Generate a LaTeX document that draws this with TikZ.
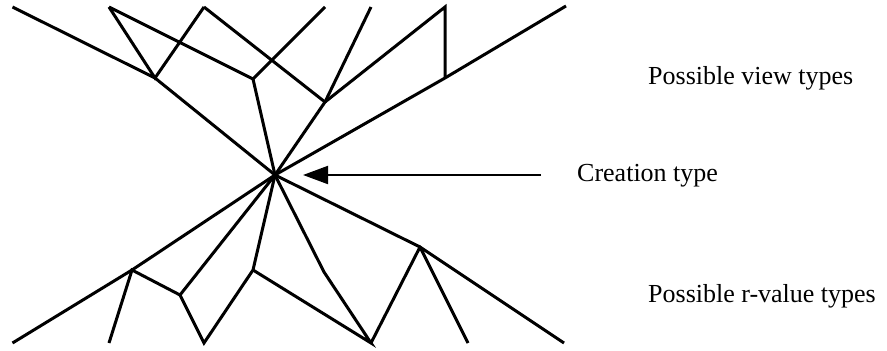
\documentclass[tikz,border=0pt]{standalone}
\usepackage{fontspec}
\setmainfont{Liberation Serif}
\usetikzlibrary{arrows.meta}
\begin{document}
\begin{tikzpicture}[x=1pt,y=-1pt,
  edge/.style={line width=3pt,line join=miter},
  lbl/.style={font=\fontsize{26}{30}\selectfont,inner sep=0pt,anchor=base west},
  pointer/.style={line width=2pt,-{Triangle[length=25pt,width=18pt]}}]
\useasboundingbox (0,0) rectangle (887,351);
% centre
\coordinate (C) at (275,175);
% top ends
\coordinate (T1) at (12.5,7);
\coordinate (T2) at (109,7);
\coordinate (T3) at (204,7);
\coordinate (T4) at (325,7);
\coordinate (T5) at (371,7);
\coordinate (T6) at (445,7);
\coordinate (T7) at (566,6);
% top junctions
\coordinate (J1) at (155,78);
\coordinate (J2) at (253,79);
\coordinate (J3) at (325,102);
\coordinate (J4) at (445,78);
% bottom ends
\coordinate (B1) at (12.5,343);
\coordinate (B2) at (109,343);
\coordinate (B3) at (204,343);
\coordinate (B4) at (371,343);
\coordinate (B5) at (468,343);
\coordinate (B6) at (564,343);
% bottom junctions
\coordinate (K1) at (132,270);
\coordinate (K2) at (180,295);
\coordinate (K3) at (253,270);
\coordinate (K4) at (324,272);
\coordinate (K5) at (420,247);
% top edges
\draw[edge] (T1) -- (J1) -- (C);
\draw[edge] (T2) -- (J1) -- (T3);
\draw[edge] (T2) -- (J2) -- (C);
\draw[edge] (T4) -- (J2);
\draw[edge] (T3) -- (J3) -- (C);
\draw[edge] (T5) -- (J3);
\draw[edge] (J3) -- (T6) -- (J4);
\draw[edge] (T7) -- (J4) -- (C);
% bottom edges
\draw[edge] (C) -- (K1) -- (B1);
\draw[edge] (B2) -- (K1) -- (K2) -- (C);
\draw[edge] (K2) -- (B3) -- (K3) -- (C);
\draw[edge] (K3) -- (B4) -- (K4) -- (C);
\draw[edge] (B4) -- (K5) -- (B6);
\draw[edge] (C) -- (K5);
\draw[edge] (K5) -- (B5);
% labels
\node[lbl] (view) at (648,84) {Possible view types};
\node[lbl] (creation) at (577,181) {Creation type};
\node[lbl] (rvalue) at (648,302) {Possible r-value types};
% pointer
\coordinate (arrS) at (541,175);
\coordinate (arrE) at (303,175);
\draw[pointer] (arrS) -- (arrE);
\end{tikzpicture}
\end{document}
